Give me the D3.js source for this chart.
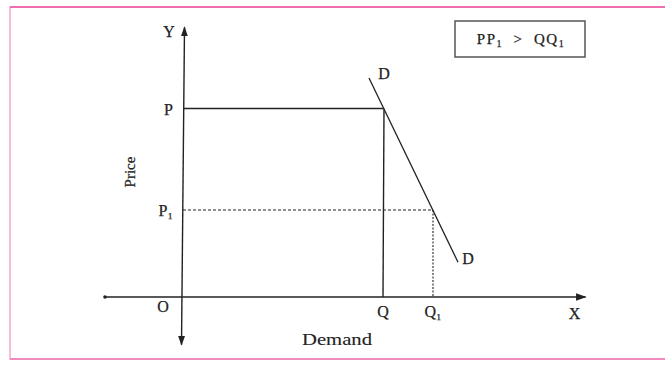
<!DOCTYPE html>
<html>
<head>
<meta charset="utf-8">
<script src="https://cdn.jsdelivr.net/npm/d3@7"></script>
<style>
  body { margin: 0; background: #fff; }
  svg { display: block; font-family: "Liberation Serif", "DejaVu Serif", serif; }
</style>
</head>
<body>
<script>
(function(){
    /////////// DATA //////////
    const quantities = [0, 4, 5];            // O, Q, Q1 on the demand axis
    const quantityLabels = ["O", "Q", "Q\u2081"];
    const prices = [6.5, 3];                 // P, P1 on the price axis
    const priceLabels = ["P", "P\u2081"];
    const demandCurve = [[3.72, 7.55], [5.5, 1.2]]; // the D ... D line
    const axisExtentX = [-1.56, 8.05];
    const axisExtentY = [-1.65, 9.3];

    const width = 665, height = 365;

    const svg = d3.select("body").append("svg")
        .attr("width", width)
        .attr("height", height);

    // scales: origin O sits at (183, 297)
    const x = d3.scaleLinear().domain([0, 8]).range([183, 583]);
    const y = d3.scaleLinear().domain([0, 8]).range([297, 65]);

    // pink frame of the scanned page
    svg.append("rect")
        .attr("x", 10).attr("y", 7)
        .attr("width", 680).attr("height", 352)
        .attr("fill", "none")
        .attr("stroke", "#f5a9cf")
        .attr("stroke-width", 1.5);
    svg.append("line")
        .attr("x1", 10).attr("x2", 665).attr("y1", 7).attr("y2", 7)
        .attr("stroke", "#ee6fae").attr("stroke-width", 2);
    svg.append("line")
        .attr("x1", 10).attr("x2", 665).attr("y1", 359).attr("y2", 359)
        .attr("stroke", "#f28bbd").attr("stroke-width", 2);

    const ink = "#222";

    // markers
    const defs = svg.append("defs");
    defs.append("marker")
        .attr("id", "arrow")
        .attr("viewBox", "0 0 10 10")
        .attr("refX", 9).attr("refY", 5)
        .attr("markerWidth", 7).attr("markerHeight", 7)
        .attr("orient", "auto-start-reverse")
        .append("path").attr("d", "M0,1.5 L10,5 L0,8.5 Z").attr("fill", ink);

    // axes
    svg.append("line")
        .attr("x1", x(axisExtentX[0])).attr("x2", x(axisExtentX[1]))
        .attr("y1", y(0)).attr("y2", y(0))
        .attr("stroke", ink).attr("stroke-width", 1.5)
        .attr("marker-end", "url(#arrow)");
    svg.append("circle")
        .attr("cx", x(axisExtentX[0])).attr("cy", y(0)).attr("r", 1.8).attr("fill", ink);

    svg.append("line")
        .attr("x1", x(0) + 1.5).attr("x2", x(0) - 1.5)
        .attr("y1", y(axisExtentY[1])).attr("y2", y(axisExtentY[0]))
        .attr("stroke", ink).attr("stroke-width", 1.4)
        .attr("marker-start", "url(#arrow)")
        .attr("marker-end", "url(#arrow)");

    // P horizontal and Q vertical (solid)
    svg.append("line")
        .attr("x1", x(0)).attr("x2", x(quantities[1]))
        .attr("y1", y(prices[0])).attr("y2", y(prices[0]))
        .attr("stroke", ink).attr("stroke-width", 1.4);
    svg.append("line")
        .attr("x1", x(quantities[1]) + 1).attr("x2", x(quantities[1]))
        .attr("y1", y(prices[0])).attr("y2", y(0))
        .attr("stroke", ink).attr("stroke-width", 1.4);

    // P1 horizontal and Q1 vertical (dashed)
    svg.append("line")
        .attr("x1", x(0)).attr("x2", x(quantities[2]))
        .attr("y1", y(prices[1])).attr("y2", y(prices[1]))
        .attr("stroke", ink).attr("stroke-width", 1.1)
        .attr("stroke-dasharray", "3,2");
    svg.append("line")
        .attr("x1", x(quantities[2])).attr("x2", x(quantities[2]))
        .attr("y1", y(prices[1])).attr("y2", y(0))
        .attr("stroke", ink).attr("stroke-width", 1.1)
        .attr("stroke-dasharray", "2,1.5");

    // demand curve
    svg.append("path")
        .datum(demandCurve)
        .attr("d", d3.line().x(d => x(d[0])).y(d => y(d[1])))
        .attr("fill", "none")
        .attr("stroke", ink).attr("stroke-width", 1.3);

    // labels
    const label = (tx, ty, t, anchor, size) => svg.append("text")
        .attr("x", tx).attr("y", ty)
        .attr("text-anchor", anchor || "middle")
        .attr("font-size", size || 16)
        .attr("fill", "#222")
        .attr("stroke", "#222").attr("stroke-width", 0.25)
        .text(t);

    label(x(demandCurve[0][0]) + 15, y(demandCurve[0][1]) + 1, "D");
    label(x(demandCurve[1][0]) + 10, y(demandCurve[1][1]) + 2, "D");
    label(x(0) - 14, y(axisExtentY[1]) + 10, "Y");
    label(x(axisExtentX[1]) - 11, y(0) + 22, "X");

    priceLabels.forEach((t, i) => {
        label(x(0) - 10, y(prices[i]) + 6, t, "end");
    });
    quantityLabels.forEach((t, i) => {
        const dx = i === 0 ? -20 : 0;
        const dy = i === 0 ? 15 : 20;
        label(x(quantities[i]) + dx, y(0) + dy, t);
    });

    label(337, 345, "Demand")
        .attr("stroke-width", 0.1)
        .attr("textLength", 70)
        .attr("lengthAdjust", "spacingAndGlyphs");
    svg.append("text")
        .attr("transform", "translate(135,172) rotate(-90)")
        .attr("text-anchor", "middle")
        .attr("font-size", 15)
        .attr("fill", "#222")
        .attr("stroke", "#222").attr("stroke-width", 0.25)
        .text("Price");

    // inequality box
    svg.append("rect")
        .attr("x", 455).attr("y", 21)
        .attr("width", 130).attr("height", 36)
        .attr("fill", "none")
        .attr("stroke", "#555").attr("stroke-width", 1.5);
    const box = svg.append("text")
        .attr("x", 521).attr("y", 44)
        .attr("text-anchor", "middle")
        .attr("font-size", 15)
        .attr("letter-spacing", 1.5)
        .attr("fill", "#222")
        .attr("stroke", "#222").attr("stroke-width", 0.25);
    box.append("tspan").text("PP");
    box.append("tspan").attr("font-size", 10).attr("dy", 3).text("1");
    box.append("tspan").attr("dy", -3).text("\u00a0\u00a0>\u00a0\u00a0QQ");
    box.append("tspan").attr("font-size", 10).attr("dy", 3).text("1");
})();
</script>
</body>
</html>
